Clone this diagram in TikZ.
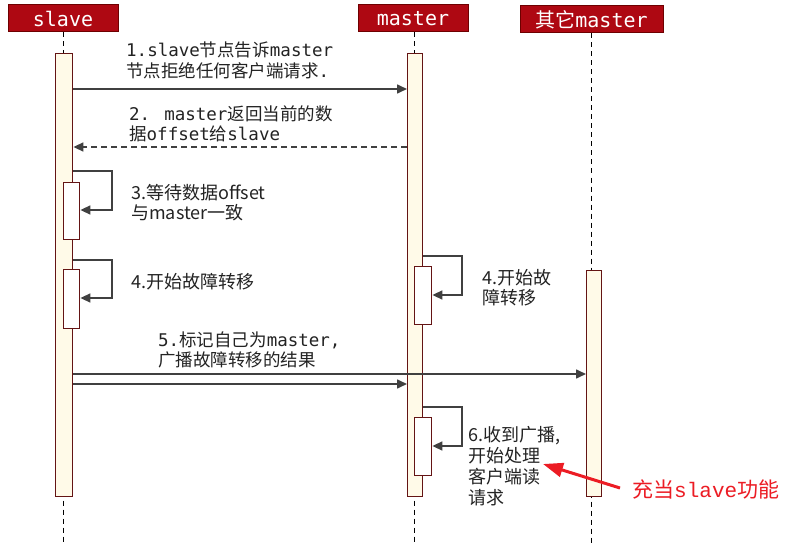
\documentclass[tikz,border=0pt]{standalone}
\usepackage{fontspec}
\usetikzlibrary{arrows.meta}
\newfontfamily\cjk{Noto Sans CJK SC}
\newfontfamily\mono{DejaVu Sans Mono}
\newfontfamily\rmono{Liberation Mono}
\newcommand\zh[1]{{\cjk #1}}
\definecolor{hdrred}{RGB}{174,8,18}
\definecolor{hdrborder}{RGB}{110,0,0}
\definecolor{barfill}{RGB}{255,250,232}
\definecolor{barline}{RGB}{100,20,20}
\definecolor{arrowgray}{RGB}{64,64,64}
\definecolor{txt}{RGB}{35,35,35}
\definecolor{notered}{RGB}{236,28,36}
\begin{document}
\begin{tikzpicture}[x=1pt,y=-1pt,
  hdr/.style={draw=hdrborder,line width=1pt,fill=hdrred,text=white,inner sep=0pt,
    minimum height=27pt,font=\mono\fontsize{20}{24}\selectfont},
  lifeline/.style={draw=black,line width=0.9pt,dash pattern=on 5pt off 4pt},
  bar/.style={draw=barline,line width=1.4pt,fill=barfill,inner sep=0pt,anchor=north west},
  subbar/.style={draw=barline,line width=1.4pt,fill=white,inner sep=0pt,anchor=north west},
  msg/.style={draw=arrowgray,line width=1.6pt,-{Triangle[length=10pt,width=9pt]}},
  ret/.style={msg,dash pattern=on 6pt off 4pt},
  lbl/.style={anchor=base west,inner sep=0pt,text=txt,font=\mono\fontsize{17.5}{21}\selectfont},
  slbl/.style={anchor=base west,inner sep=0pt,text=txt,font=\cjk\fontsize{18}{21}\selectfont},
  note/.style={anchor=base west,inner sep=0pt,text=notered,font=\cjk\fontsize{21}{25}\selectfont}]
\useasboundingbox[fill=white] (0,0) rectangle (807,543);

% headers
\node[hdr,minimum width=110pt] (hs) at (63,18.5) {slave};
\node[hdr,minimum width=110pt] (hm) at (413,18.5) {master};
\node[hdr,minimum width=143pt] (ho) at (591.5,19.5) {\zh{其它}master};

% lifelines
\coordinate (es) at (63.5,543);
\coordinate (em) at (414.5,543);
\coordinate (eo) at (591,543);
\draw[lifeline] (hs.south -| es) -- (es);
\draw[lifeline] (hm.south -| em) -- (em);
\draw[lifeline] (ho.south -| eo) -- (eo);

% activation bars
\node[bar,minimum width=17pt,minimum height=443pt] (bs) at (55,53) {};
\node[bar,minimum width=15pt,minimum height=443pt] (bm) at (407,53) {};
\node[bar,minimum width=15pt,minimum height=226pt] (bo) at (586,270) {};

% nested activations
\node[subbar,minimum width=16pt,minimum height=57pt] (n3) at (63,182) {};
\node[subbar,minimum width=16pt,minimum height=59pt] (n4) at (63,269) {};
\node[subbar,minimum width=17pt,minimum height=58pt] (nm4) at (414,266) {};
\node[subbar,minimum width=17pt,minimum height=58pt] (nm6) at (414,417) {};

% y levels
\coordinate (y1) at (0,89);
\coordinate (y2) at (0,147);
\coordinate (y3a) at (0,171);
\coordinate (y3b) at (112,210);
\coordinate (y4a) at (0,260);
\coordinate (y4b) at (112,298);
\coordinate (ym4a) at (0,256);
\coordinate (ym4b) at (462,295);
\coordinate (y5a) at (0,374);
\coordinate (y5b) at (0,384);
\coordinate (ym6a) at (0,407);
\coordinate (ym6b) at (462,446);

% messages
\draw[msg] (bs.east |- y1) -- (bm.west |- y1);
\draw[ret] (bm.west |- y2) -- (bs.east |- y2);
\draw[msg] (bs.east |- y3a) -| (y3b) -- (n3.east |- y3b);
\draw[msg] (bs.east |- y4a) -| (y4b) -- (n4.east |- y4b);
\draw[msg] (bm.east |- ym4a) -| (ym4b) -- (nm4.east |- ym4b);
\draw[msg] (bs.east |- y5a) -- (bo.west |- y5a);
\draw[msg] (bs.east |- y5b) -- (bm.west |- y5b);
\draw[msg] (bm.east |- ym6a) -| (ym6b) -- (nm6.east |- ym6b);

% labels
\node[lbl] (l1a) at (126,57) {1.slave\zh{节点告诉}master};
\node[lbl] (l1b) at (126,78) {\zh{节点拒绝任何客户端请求}.};
\node[lbl] (l2a) at (129,121) {2. master\zh{返回当前的数}};
\node[lbl] (l2b) at (129,141) {\zh{据}offset\zh{给}slave};
\node[slbl] (l3a) at (131,199) {3.等待数据offset};
\node[slbl] (l3b) at (131,219) {与master一致};
\node[slbl] (l4) at (131,288) {4.开始故障转移};
\node[slbl] (lm4a) at (482,284) {4.开始故};
\node[slbl] (lm4b) at (482,304) {障转移};
\node[lbl] (l5a) at (158,346) {5.\zh{标记自己为}master,};
\node[lbl] (l5b) at (158,366) {\zh{广播故障转移的结果}};
\node[slbl] (l6a) at (468,441) {6.收到广播,};
\node[slbl] (l6b) at (468,462) {开始处理};
\node[slbl] (l6c) at (468,483) {客户端读};
\node[slbl] (l6d) at (468,504) {请求};

% note
\node[note] (nt) at (632,497) {充当{\rmono slave}功能};
\coordinate (ntail) at (620,488);
\coordinate (ntip) at (543,464);
\draw[notered,line width=3pt,-{Triangle[length=20pt,width=14pt]}] (ntail) -- (ntip);
\end{tikzpicture}
\end{document}
